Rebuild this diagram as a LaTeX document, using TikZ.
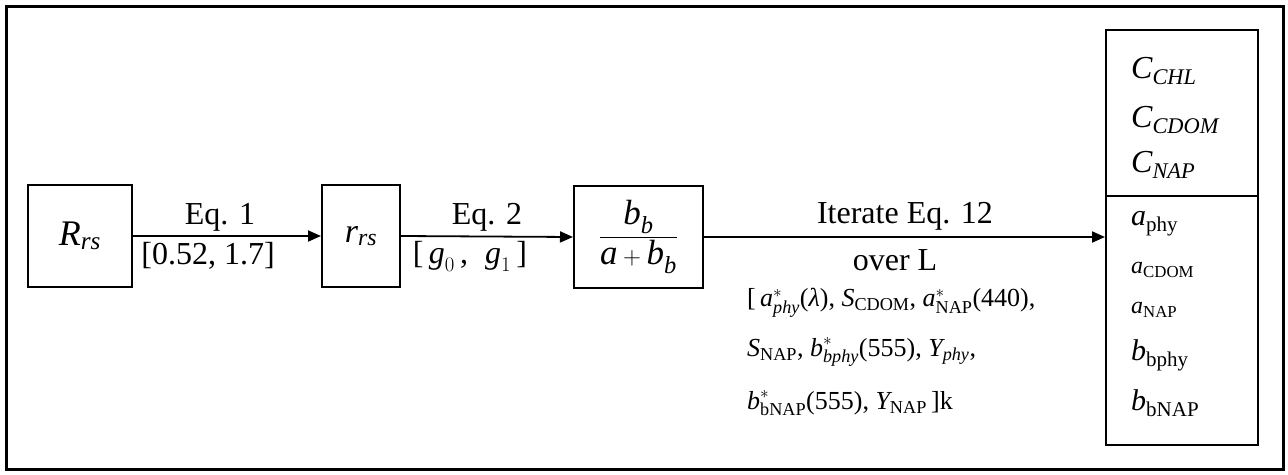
\documentclass[tikz,border=0pt]{standalone}
\usepackage{fontspec}
\usepackage{amsmath}
\setmainfont{Liberation Serif}
\usetikzlibrary{arrows.meta}
\newcommand{\vi}[1]{\textit{#1}}
\newcommand{\fs}[1]{\fontsize{#1}{#1}\selectfont}
\begin{document}
\begin{tikzpicture}[x=1pt,y=-1pt,
  box/.style={draw, line width=2pt, inner sep=0pt},
  conn/.style={line width=1.8pt, -{Triangle[length=13pt,width=11pt]}},
  lbl/.style={font=\fs{32}, inner sep=0pt},
  lst/.style={font=\fs{26}, inner sep=0pt, anchor=west},
  res/.style={inner sep=0pt, anchor=west},
]
\useasboundingbox (0,0) rectangle (1288,474);
\node[draw, line width=3pt, minimum width=1277pt, minimum height=463pt, inner sep=0pt] (frame) at (644.5,237.5) {};

\node[box, minimum width=104pt, minimum height=102pt] (R) at (80,236) {\fs{36}$\vi{R}_{\vi{rs}}$};
\node[box, minimum width=78pt, minimum height=102pt] (r) at (361,236) {\fs{34}$\vi{r}_{\vi{rs}}$};
\node[box, minimum width=129pt, minimum height=102pt] (F) at (638.5,237) {\fs{35}$\dfrac{\vi{b}_{\vi{b}}}{\vi{a}+\vi{b}_{\vi{b}}}$};
\node[box, minimum width=152pt, minimum height=166pt] (T) at (1182,113) {};
\node[box, minimum width=152pt, minimum height=249pt] (B) at (1182,320.5) {};

\draw[conn] (R.east) -- (r.west);
\draw[conn] (r.east) -- (F.west);
\draw[conn] (F.east) -- (F.east -| B.west);

\node[lbl] (e1) at (220,217) {Eq. 1};
\node[lbl] (e1b) at (208,256) {[0.52, 1.7]};
\node[lbl] (e2) at (487,217) {Eq. 2};
\node[lbl] (e2b) at (470,256) {[\,$\vi{g}_{0}$\,,\; $\vi{g}_{1}$\,]};
\node[lbl] (it) at (905,216) {Iterate Eq. 12};
\node[lbl] (ov) at (895,260) {over L};
\node[lst] (l1) at (747,303) {[\,$\vi{a}^{*}_{\vi{phy}}$(\vi{λ}), $\vi{S}_{\text{CDOM}}$, $\vi{a}^{*}_{\text{NAP}}$(440),};
\node[lst] (l2) at (747,352) {$\vi{S}_{\text{NAP}}$, $\vi{b}^{*}_{\vi{bphy}}$(555), $\vi{Y}_{\vi{phy}}$,};
\node[lst] (l3) at (747,403) {$\vi{b}^{*}_{\text{bNAP}}$(555), $\vi{Y}_{\text{NAP}}$\,]k};

\node[res, font=\fs{32}] (c1) at (1131,71) {$\vi{C}_{\vi{CHL}}$};
\node[res, font=\fs{32}] (c2) at (1131,120) {$\vi{C}_{\vi{CDOM}}$};
\node[res, font=\fs{32}] (c3) at (1131,165) {$\vi{C}_{\vi{NAP}}$};
\node[res, font=\fs{30}] (a1) at (1131,224) {$\vi{a}_{\text{phy}}$};
\node[res, font=\fs{24}] (a2) at (1131,270) {$\vi{a}_{\text{CDOM}}$};
\node[res, font=\fs{24}] (a3) at (1131,310) {$\vi{a}_{\text{NAP}}$};
\node[res, font=\fs{30}] (b1) at (1131,355) {$\vi{b}_{\text{bphy}}$};
\node[res, font=\fs{30}] (b2) at (1131,403) {$\vi{b}_{\text{bNAP}}$};
\end{tikzpicture}
\end{document}
